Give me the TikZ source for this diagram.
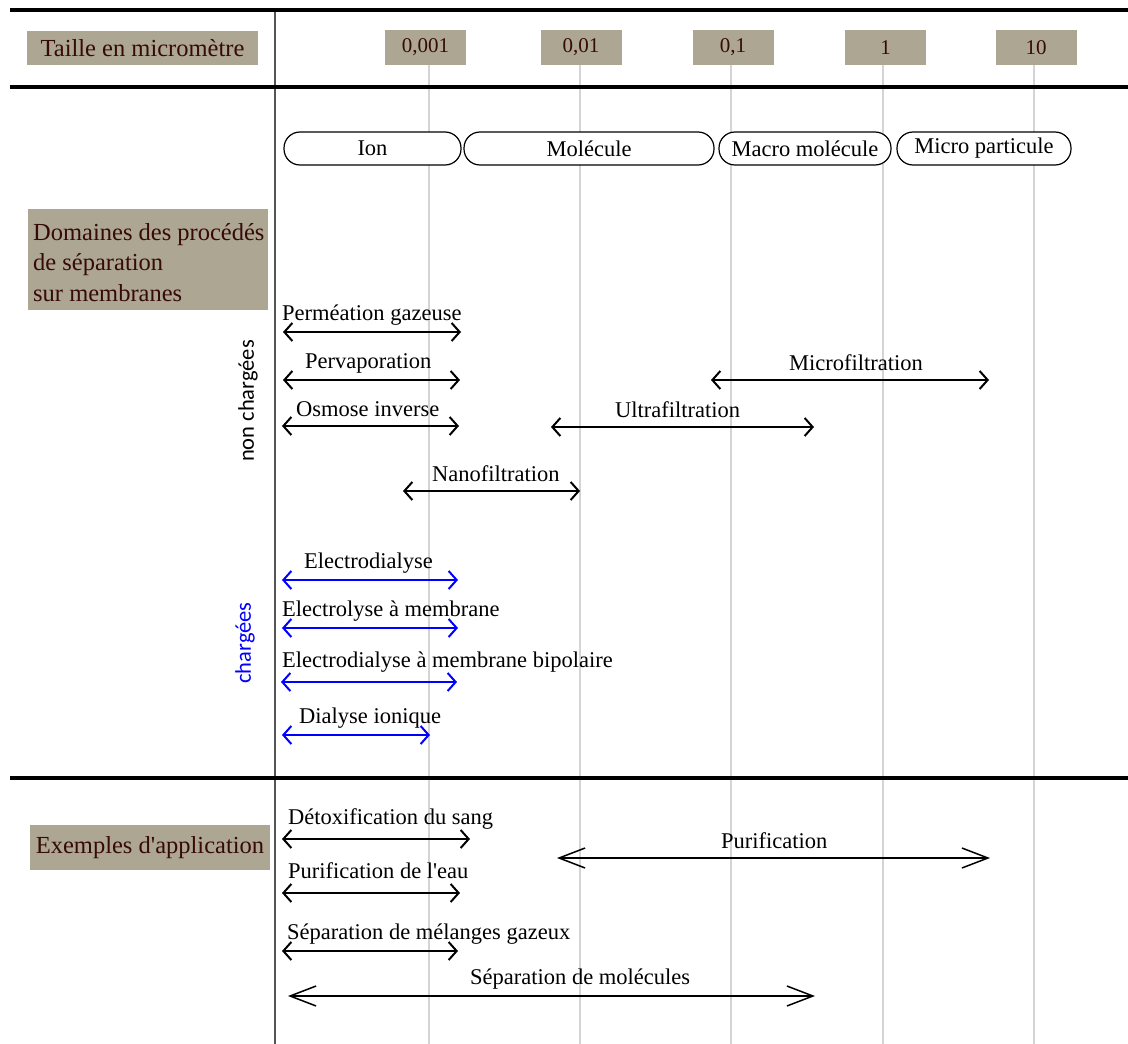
\documentclass[tikz,border=0pt]{standalone}
\usepackage{fontspec}
\setmainfont{Liberation Serif}
\newfontfamily\serf{Liberation Serif}
\newfontfamily\sansf{Carlito}
\usetikzlibrary{arrows.meta}
\definecolor{boxfill}{RGB}{172,166,146}
\definecolor{boxtext}{RGB}{55,10,10}
\definecolor{gridc}{RGB}{212,212,212}
\definecolor{axisc}{RGB}{85,85,85}
\definecolor{chblue}{RGB}{0,0,255}
\begin{document}
\begin{tikzpicture}[x=1pt,y=-1pt,
  hdr/.style={fill=boxfill, text=boxtext, font=\serf\fontsize{24.5}{30.5}\selectfont, inner sep=0pt},
  scalebox/.style={fill=boxfill, text=boxtext, font=\serf\fontsize{21}{25}\selectfont, minimum width=81pt, minimum height=35pt, inner sep=0pt},
  pill/.style={draw, fill=white, rounded corners=16pt, line width=1.2pt, minimum height=33pt, inner sep=0pt, font=\serf\fontsize{22.5}{27}\selectfont},
  lbl/.style={anchor=base west, inner sep=0pt, font=\serf\fontsize{22.5}{27}\selectfont},
  side/.style={rotate=90, inner sep=0pt, font=\sansf\fontsize{22.5}{27}\selectfont},
  arr/.style={line width=2pt, {Straight Barb[length=8pt,width=18pt]}-{Straight Barb[length=8pt,width=18pt]}},
  bigarr/.style={line width=1.5pt, {Straight Barb[length=26pt,width=20pt]}-{Straight Barb[length=26pt,width=20pt]}},
  thick rule/.style={line width=4pt, black},
  gridline/.style={line width=1.5pt, gridc},
]
\useasboundingbox (0,0) rectangle (1128,1044);
\fill[white] (0,0) rectangle (1128,1044);

% grid lines
\foreach \gx/\gn in {429/g1,580/g2,731/g3,883/g4,1034/g5}{
  \coordinate (\gn top) at (\gx,65);
  \coordinate (\gn bot) at (\gx,1044);
  \draw[gridline] (\gn top) -- (\gn bot);
}

% axis and rules
\coordinate (axtop) at (275,10);
\coordinate (axbot) at (275,1044);
\draw[line width=2pt, axisc] (axtop) -- (axbot);
\foreach \ry/\rn in {10/r1,87/r2,778/r3}{
  \coordinate (\rn l) at (10,\ry);
  \coordinate (\rn r) at (1128,\ry);
  \draw[thick rule] (\rn l) -- (\rn r);
}

% header scale
\node[hdr, minimum width=231pt, minimum height=34pt] (taille) at (142.5,48) {Taille en micromètre};
\node[scalebox] (s1) at (425.5,47.5) {\raisebox{-1pt}{0,001}};
\node[scalebox] (s2) at (581,47.5) {\raisebox{-1pt}{0,01}};
\node[scalebox] (s3) at (733,47.5) {\raisebox{-1pt}{0,1}};
\node[scalebox] (s4) at (885.5,47.5) {\raisebox{-1pt}{1}};
\node[scalebox] (s5) at (1036,47.5) {\raisebox{-1pt}{10}};

% pills
\node[pill, minimum width=177pt] (ion) at (372.5,148.5) {Ion};
\node[pill, minimum width=250pt] (mol) at (589,148.5) {Molécule};
\node[pill, minimum width=172pt] (macro) at (805,148.5) {Macro molécule};
\node[pill, minimum width=174pt] (micro) at (984,148.5) {\raisebox{2pt}{Micro particule}};

% section headers
\node[hdr, anchor=north west, minimum width=240pt, minimum height=101pt] (dom) at (28,209) {};
\node[hdr, fill=none, anchor=north west, align=left] (domtxt) at (33,223) {Domaines des procédés\\de séparation\\sur membranes};
\node[hdr, minimum width=240pt, minimum height=45pt] (ex) at (150,847.5) {\raisebox{-2pt}{Exemples d'application}};

% side labels
\node[side] (nonch) at (248,401) {non chargées};
\node[side, text=chblue] (ch) at (245,643) {chargées};

% non charged processes
\coordinate (pg1) at (283,332); \coordinate (pg2) at (461,332);
\coordinate (pv1) at (283,380); \coordinate (pv2) at (460,380);
\coordinate (oi1) at (282,426); \coordinate (oi2) at (459,426);
\coordinate (nf1) at (403,491); \coordinate (nf2) at (580,491);
\coordinate (mf1) at (711,380); \coordinate (mf2) at (989,380);
\coordinate (uf1) at (551,427); \coordinate (uf2) at (814,427);
\draw[arr] (pg1) -- (pg2);
\draw[arr] (pv1) -- (pv2);
\draw[arr] (oi1) -- (oi2);
\draw[arr] (nf1) -- (nf2);
\draw[arr] (mf1) -- (mf2);
\draw[arr] (uf1) -- (uf2);
\node[lbl] (lpg) at (282,320) {Perméation gazeuse};
\node[lbl] (lpv) at (305,368) {Pervaporation};
\node[lbl] (loi) at (296,416) {Osmose inverse};
\node[lbl] (lnf) at (432,481) {Nanofiltration};
\node[lbl] (lmf) at (789,370) {Microfiltration};
\node[lbl] (luf) at (615,417) {Ultrafiltration};

% charged processes
\coordinate (ed1) at (282,580); \coordinate (ed2) at (458,580);
\coordinate (el1) at (282,628); \coordinate (el2) at (458,628);
\coordinate (eb1) at (281,682); \coordinate (eb2) at (457,682);
\coordinate (di1) at (282,735); \coordinate (di2) at (430,735);
\draw[arr, chblue] (ed1) -- (ed2);
\draw[arr, chblue] (el1) -- (el2);
\draw[arr, chblue] (eb1) -- (eb2);
\draw[arr, chblue] (di1) -- (di2);
\node[lbl] (led) at (304,568) {Electrodialyse};
\node[lbl] (lel) at (282,616) {Electrolyse à membrane};
\node[lbl] (leb) at (282,667) {Electrodialyse à membrane bipolaire};
\node[lbl] (ldi) at (299,723) {Dialyse ionique};

% applications
\coordinate (dx1) at (282,839); \coordinate (dx2) at (470,839);
\coordinate (pe1) at (282,893); \coordinate (pe2) at (460,893);
\coordinate (sg1) at (282,951); \coordinate (sg2) at (458,951);
\coordinate (sm1) at (288,996); \coordinate (sm2) at (815,996);
\coordinate (pu1) at (557,858); \coordinate (pu2) at (990,858);
\draw[arr] (dx1) -- (dx2);
\draw[arr] (pe1) -- (pe2);
\draw[arr] (sg1) -- (sg2);
\draw[bigarr] (sm1) -- (sm2);
\draw[bigarr] (pu1) -- (pu2);
\node[lbl] (ldx) at (288,824) {Détoxification du sang};
\node[lbl] (lpe) at (288,878) {Purification de l'eau};
\node[lbl] (lsg) at (287,939) {Séparation de mélanges gazeux};
\node[lbl] (lsm) at (470,984) {Séparation de molécules};
\node[lbl] (lpu) at (721,848) {Purification};
\end{tikzpicture}
\end{document}
